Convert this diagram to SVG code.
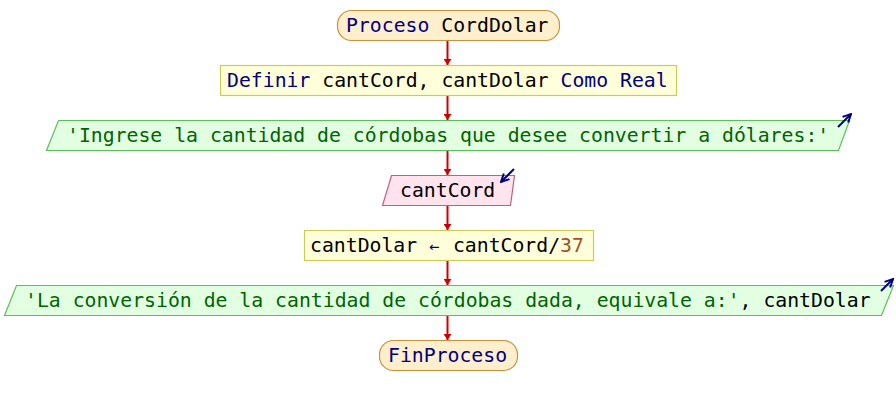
<svg xmlns="http://www.w3.org/2000/svg" width="896" height="405" viewBox="0 0 896 405">
  <defs>
    <marker id="flow" viewBox="0 0 6 8" refX="6" refY="4" markerWidth="6" markerHeight="8" markerUnits="userSpaceOnUse" orient="auto">
      <path d="M0,0 L6,4 L0,8 Z" fill="#cc0000"/>
    </marker>
    <marker id="io" viewBox="0 0 10 10" refX="9" refY="5" markerWidth="10" markerHeight="10" markerUnits="userSpaceOnUse" orient="auto">
      <path d="M1,1 L9,5 L1,9" fill="none" stroke="#000080" stroke-width="2"/>
    </marker>
    <style>
      text { font-family: "DejaVu Sans Mono", "Liberation Mono", monospace; font-size: 19.8px; fill: #000000; }
      .kw { fill: #000080; }
      .str { fill: #006400; }
      .num { fill: #a0522d; }
      .term { fill: #ffefcc; stroke: #c8923c; stroke-width: 1.2; }
      .proc { fill: #ffffd9; stroke: #cccc55; stroke-width: 1.2; }
      .out { fill: #e2ffe2; stroke: #5cbf5c; stroke-width: 1.2; }
      .in { fill: #ffe4ee; stroke: #c0607e; stroke-width: 1.2; }
      .flow { stroke: #cc0000; stroke-width: 2; fill: none; }
      .ioarrow { stroke: #000080; stroke-width: 2; fill: none; }
    </style>
  </defs>

  <rect width="896" height="405" fill="#ffffff"/>

  <g id="connectors">
    <line class="flow" x1="447.5" y1="40" x2="447.5" y2="65" marker-end="url(#flow)"/>
    <line class="flow" x1="447.5" y1="95" x2="447.5" y2="120" marker-end="url(#flow)"/>
    <line class="flow" x1="447.5" y1="150" x2="447.5" y2="175" marker-end="url(#flow)"/>
    <line class="flow" x1="447.5" y1="205" x2="447.5" y2="230" marker-end="url(#flow)"/>
    <line class="flow" x1="447.5" y1="261" x2="447.5" y2="285" marker-end="url(#flow)"/>
    <line class="flow" x1="447.5" y1="315" x2="447.5" y2="340" marker-end="url(#flow)"/>
  </g>

  <g id="inicio">
    <rect class="term" x="337.5" y="10.5" width="222" height="30" rx="14" ry="14"/>
    <text x="346" y="32"><tspan class="kw">Proceso</tspan> CordDolar</text>
  </g>

  <g id="definir">
    <rect class="proc" x="220.5" y="65.5" width="456" height="30"/>
    <text x="227" y="87"><tspan class="kw">Definir</tspan> cantCord, cantDolar <tspan class="kw">Como Real</tspan></text>
  </g>

  <g id="escribir1">
    <polygon class="out" points="58.5,120.5 849.5,120.5 838.5,150.5 46.5,150.5"/>
    <line class="ioarrow" x1="838" y1="127" x2="851" y2="114" marker-end="url(#io)"/>
    <text x="67" y="142" class="str">'Ingrese la cantidad de córdobas que desee convertir a dólares:'</text>
  </g>

  <g id="leer">
    <polygon class="in" points="391.5,175.5 514.5,175.5 510.5,205.5 382.5,205.5"/>
    <line class="ioarrow" x1="514" y1="169" x2="501" y2="182" marker-end="url(#io)"/>
    <text x="400" y="197">cantCord</text>
  </g>

  <g id="asignar">
    <rect class="proc" x="304.5" y="230.5" width="289" height="30"/>
    <text x="310" y="252">cantDolar <tspan class="kw" font-size="17">←</tspan><tspan x="441"> cantCord/</tspan><tspan class="num">37</tspan></text>
  </g>

  <g id="escribir2">
    <polygon class="out" points="16.5,285.5 893.5,285.5 881.5,315.5 4.5,315.5"/>
    <line class="ioarrow" x1="881" y1="291" x2="893" y2="279" marker-end="url(#io)"/>
    <text x="25" y="307"><tspan class="str">'La conversión de la cantidad de córdobas dada, equivale a:'</tspan>, cantDolar</text>
  </g>

  <g id="fin">
    <rect class="term" x="379.5" y="340.5" width="138" height="30" rx="14" ry="14"/>
    <text x="388" y="362" class="kw">FinProceso</text>
  </g>
</svg>
